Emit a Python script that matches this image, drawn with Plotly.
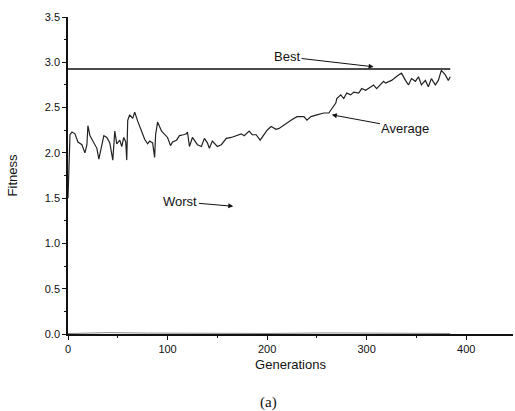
import plotly.graph_objects as go

# Average fitness per generation
avg_gen = [0, 2, 4, 7, 10, 14, 17, 19, 20, 22,
           24, 27, 29, 31, 33, 36, 39, 42, 45, 47,
           49, 52, 54, 56, 58, 59, 60, 62, 65, 67,
           70, 74, 77, 80, 82, 85, 87, 88, 90, 94,
           97, 100, 103, 105, 109, 112, 116, 119, 120, 122,
           125, 130, 134, 137, 140, 142, 145, 150, 154, 159,
           164, 169, 174, 177, 182, 185, 189, 193, 195, 200,
           204, 209, 212, 217, 224, 230, 237, 240, 244, 250,
           257, 262, 265, 269, 270, 274, 277, 280, 284, 287,
           292, 295, 299, 304, 307, 310, 314, 317, 319, 325,
           332, 335, 339, 342, 345, 349, 352, 355, 359, 362,
           365, 369, 372, 375, 379, 382, 384]
avg_fit = [1.50, 2.20, 2.23, 2.21, 2.12, 2.09, 2.00, 2.09, 2.30, 2.19,
           2.15, 2.08, 2.05, 1.93, 2.05, 2.19, 2.17, 2.11, 1.92, 2.24,
           2.10, 2.14, 2.07, 2.17, 2.12, 1.92, 2.36, 2.42, 2.38, 2.45,
           2.35, 2.24, 2.15, 2.10, 2.13, 2.11, 1.95, 2.20, 2.34, 2.24,
           2.20, 2.17, 2.08, 2.12, 2.14, 2.19, 2.20, 2.21, 2.23, 2.07,
           2.17, 2.09, 2.07, 2.16, 2.11, 2.05, 2.13, 2.07, 2.09, 2.16,
           2.17, 2.19, 2.21, 2.19, 2.24, 2.20, 2.20, 2.14, 2.17, 2.25,
           2.29, 2.26, 2.27, 2.31, 2.36, 2.40, 2.40, 2.36, 2.40, 2.42,
           2.44, 2.44, 2.49, 2.55, 2.60, 2.64, 2.60, 2.66, 2.64, 2.67,
           2.66, 2.71, 2.69, 2.73, 2.75, 2.71, 2.75, 2.79, 2.77, 2.80,
           2.86, 2.88, 2.80, 2.75, 2.82, 2.79, 2.84, 2.75, 2.80, 2.73,
           2.82, 2.75, 2.80, 2.91, 2.86, 2.80, 2.84]

best_gen = [0, 384]
best_fit = [2.925, 2.925]

worst_gen = [0, 20, 40, 80, 120, 200, 260, 300, 340, 384]
worst_fit = [0.005, 0.012, 0.015, 0.010, 0.008, 0.006, 0.012, 0.010, 0.008, 0.006]

x_ticks = [0, 100, 200, 300, 400]
y_ticks = [0.0, 0.5, 1.0, 1.5, 2.0, 2.5, 3.0, 3.5]

FONT = "Arial"

fig = go.Figure()
fig.add_trace(go.Scatter(x=worst_gen, y=worst_fit, mode="lines",
                         line=dict(color="#888888", width=1), showlegend=False))
fig.add_trace(go.Scatter(x=avg_gen, y=avg_fit, mode="lines",
                         line=dict(color="#222222", width=1.2), showlegend=False))
fig.add_trace(go.Scatter(x=best_gen, y=best_fit, mode="lines",
                         line=dict(color="#111111", width=1.5), showlegend=False))

ann_style = dict(xref="x", yref="y", axref="x", ayref="y", showarrow=True,
                 arrowhead=2, arrowsize=1, arrowwidth=1, arrowcolor="#111111",
                 font=dict(family=FONT, size=13, color="#111111"))
fig.add_annotation(x=307, y=2.95, ax=220, ay=3.06, text="Best", **ann_style)
fig.add_annotation(x=265, y=2.42, ax=339, ay=2.27, text="Average", **ann_style)
fig.add_annotation(x=166, y=1.41, ax=113, ay=1.46, text="Worst", **ann_style)
fig.add_annotation(xref="paper", yref="paper", x=0.45, y=-0.215, showarrow=False,
                   text="(a)", font=dict(family="Liberation Serif", size=15, color="#111111"),
                   xanchor="center", yanchor="middle")

fig.update_layout(
    width=515, height=411,
    margin=dict(l=68, r=2, t=17, b=77),
    paper_bgcolor="white", plot_bgcolor="white",
    font=dict(family=FONT, size=11, color="#111111"),
    xaxis=dict(range=[0, 447], tickvals=x_ticks, ticks="outside", ticklen=4,
               tickwidth=1, tickcolor="#111111", showline=True, linecolor="#111111",
               linewidth=1.5, showgrid=False, zeroline=False,
               minor=dict(dtick=50, ticks="outside", ticklen=2, tickcolor="#111111"),
               title=dict(text="Generations", font=dict(size=13), standoff=6)),
    yaxis=dict(range=[0, 3.5], tickvals=y_ticks, tickformat=".1f", ticks="outside",
               ticklen=4, tickwidth=1, tickcolor="#111111", showline=True,
               linecolor="#111111", linewidth=1.5, showgrid=False, zeroline=False,
               minor=dict(dtick=0.25, ticks="outside", ticklen=2, tickcolor="#111111"),
               title=dict(text="Fitness", font=dict(size=13), standoff=24)),
)

fig.write_html("out.html")
